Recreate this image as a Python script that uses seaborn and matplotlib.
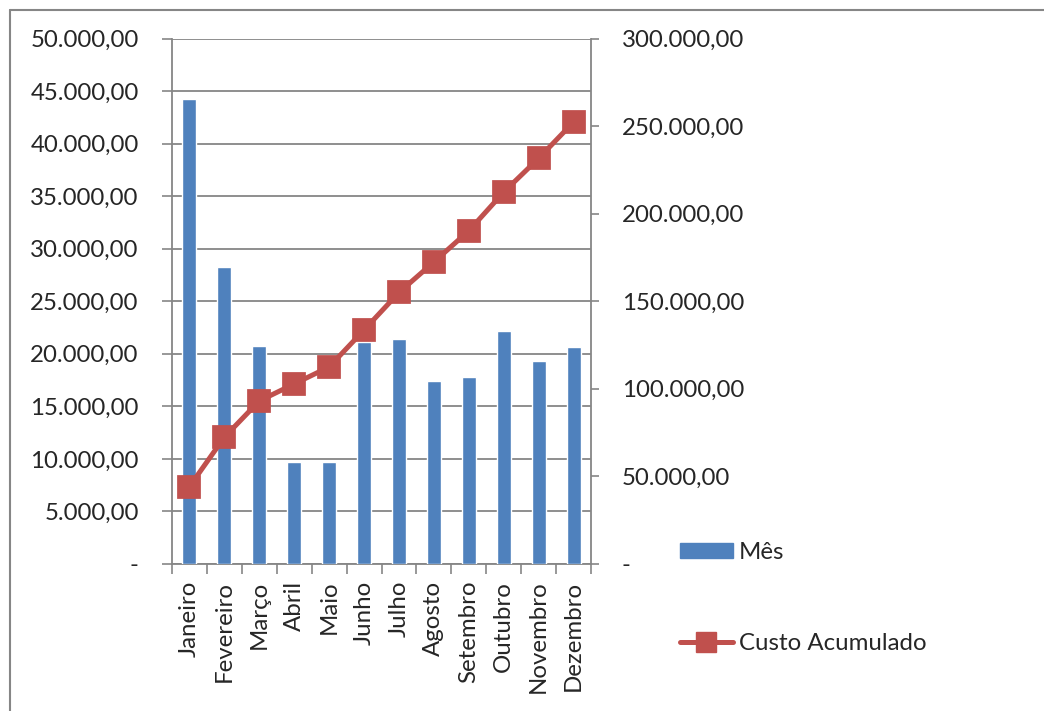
import matplotlib
matplotlib.use("Agg")
import matplotlib.pyplot as plt
import matplotlib.ticker as mticker
from matplotlib.lines import Line2D
import seaborn as sns
import pandas as pd
import numpy as np

# Data
meses = ['Janeiro', 'Fevereiro', 'Março', 'Abril', 'Maio', 'Junho',
         'Julho', 'Agosto', 'Setembro', 'Outubro', 'Novembro', 'Dezembro']
custo_mes = [44200, 28300, 20700, 9700, 9700, 21100,
             21400, 17400, 17750, 22150, 19300, 20650]
custo_acumulado = [44200, 72400, 93100, 102800, 112500, 133600,
                   155000, 172400, 190200, 212300, 231600, 252300]

df = pd.DataFrame({'Mes': meses, 'Mês': custo_mes,
                   'Custo Acumulado': custo_acumulado})

sns.set_style('white')
plt.rcParams['font.family'] = ['Lato', 'DejaVu Sans']
plt.rcParams['font.size'] = 17

blue = '#4F81BD'
red = '#C0504D'
gray = '#868686'
fs = 17.3

fig = plt.figure(figsize=(10.44, 7.11), dpi=100)
ax = fig.add_axes([172 / 1044, 1 - 564 / 711, (591 - 172) / 1044, (564 - 38.5) / 711])

sns.barplot(data=df, x='Mes', y='Mês', ax=ax, color=blue, width=0.4,
            saturation=1, label='Mês', zorder=3)

ax2 = ax.twinx()
sns.pointplot(data=df, x='Mes', y='Custo Acumulado', ax=ax2, color=red,
              markers='s', markersize=14, linewidth=3.6,
              label='Custo Acumulado')


def fmt_br(v, pos=None):
    if abs(v) < 1e-9:
        return '-'
    s = f'{v:,.2f}'
    return s.replace(',', 'X').replace('.', ',').replace('X', '.')


# left axis
ax.set_ylim(0, 50000)
ax.set_yticks(np.arange(0, 50001, 5000))
ax.yaxis.set_major_formatter(mticker.FuncFormatter(fmt_br))
ax.grid(axis='y', color=gray, lw=1.3, zorder=0)
ax.set_axisbelow(True)
ax.tick_params(axis='y', which='major', direction='out', length=7, width=1.2,
               color=gray, pad=17, labelsize=fs, left=True)

# right axis
ax2.set_ylim(0, 300000)
ax2.set_yticks(np.arange(0, 300001, 50000))
ax2.yaxis.set_major_formatter(mticker.FuncFormatter(fmt_br))
ax2.tick_params(axis='y', direction='out', length=6, width=1.2,
                color=gray, pad=16, labelsize=fs, right=True)
ax2.set_ylabel('')
ax2.grid(False)

# x axis
ax.set_xlim(-0.5, len(meses) - 0.5)
ax.set_xticks(range(len(meses)))
ax.set_xticklabels(meses, rotation=90, va='top', ha='center')
ax.set_xticks(np.arange(-0.5, len(meses), 1), minor=True)
ax.tick_params(axis='x', which='major', length=0, pad=12, labelsize=fs)
ax.tick_params(axis='x', which='minor', direction='out', length=7, width=1.2,
               color=gray, bottom=True)
ax.set_xlabel('')
ax.set_ylabel('')

for a in (ax, ax2):
    for side in ('left', 'right', 'bottom'):
        a.spines[side].set_color(gray)
        a.spines[side].set_linewidth(1.3)
    a.spines['top'].set_visible(False)
ax.spines['right'].set_visible(False)
ax2.spines['left'].set_visible(False)
ax2.spines['bottom'].set_visible(False)

# legend
for a in (ax, ax2):
    if a.get_legend() is not None:
        a.get_legend().remove()
handles = [
    plt.Rectangle((0, 0), 1, 1, color=blue),
    Line2D([0], [0], color=red, lw=3.6, marker='s', markersize=14),
]
fig.legend(handles, ['Mês', 'Custo Acumulado'], loc='center left',
           bbox_to_anchor=(680 / 1044, 1 - 598 / 711), frameon=False,
           borderpad=0, borderaxespad=0, handlelength=2.2, handleheight=0.6,
           handletextpad=0.25, labelspacing=2.9, fontsize=fs)

# outer chart border
fig.add_artist(Line2D([9.5 / 1044, 1], [1 - 9.5 / 711, 1 - 9.5 / 711],
                      color=gray, lw=1.5, transform=fig.transFigure))
fig.add_artist(Line2D([9.5 / 1044, 9.5 / 1044], [0, 1 - 9.5 / 711],
                      color=gray, lw=1.5, transform=fig.transFigure))

fig.savefig('out.png', dpi=100, facecolor='white')
